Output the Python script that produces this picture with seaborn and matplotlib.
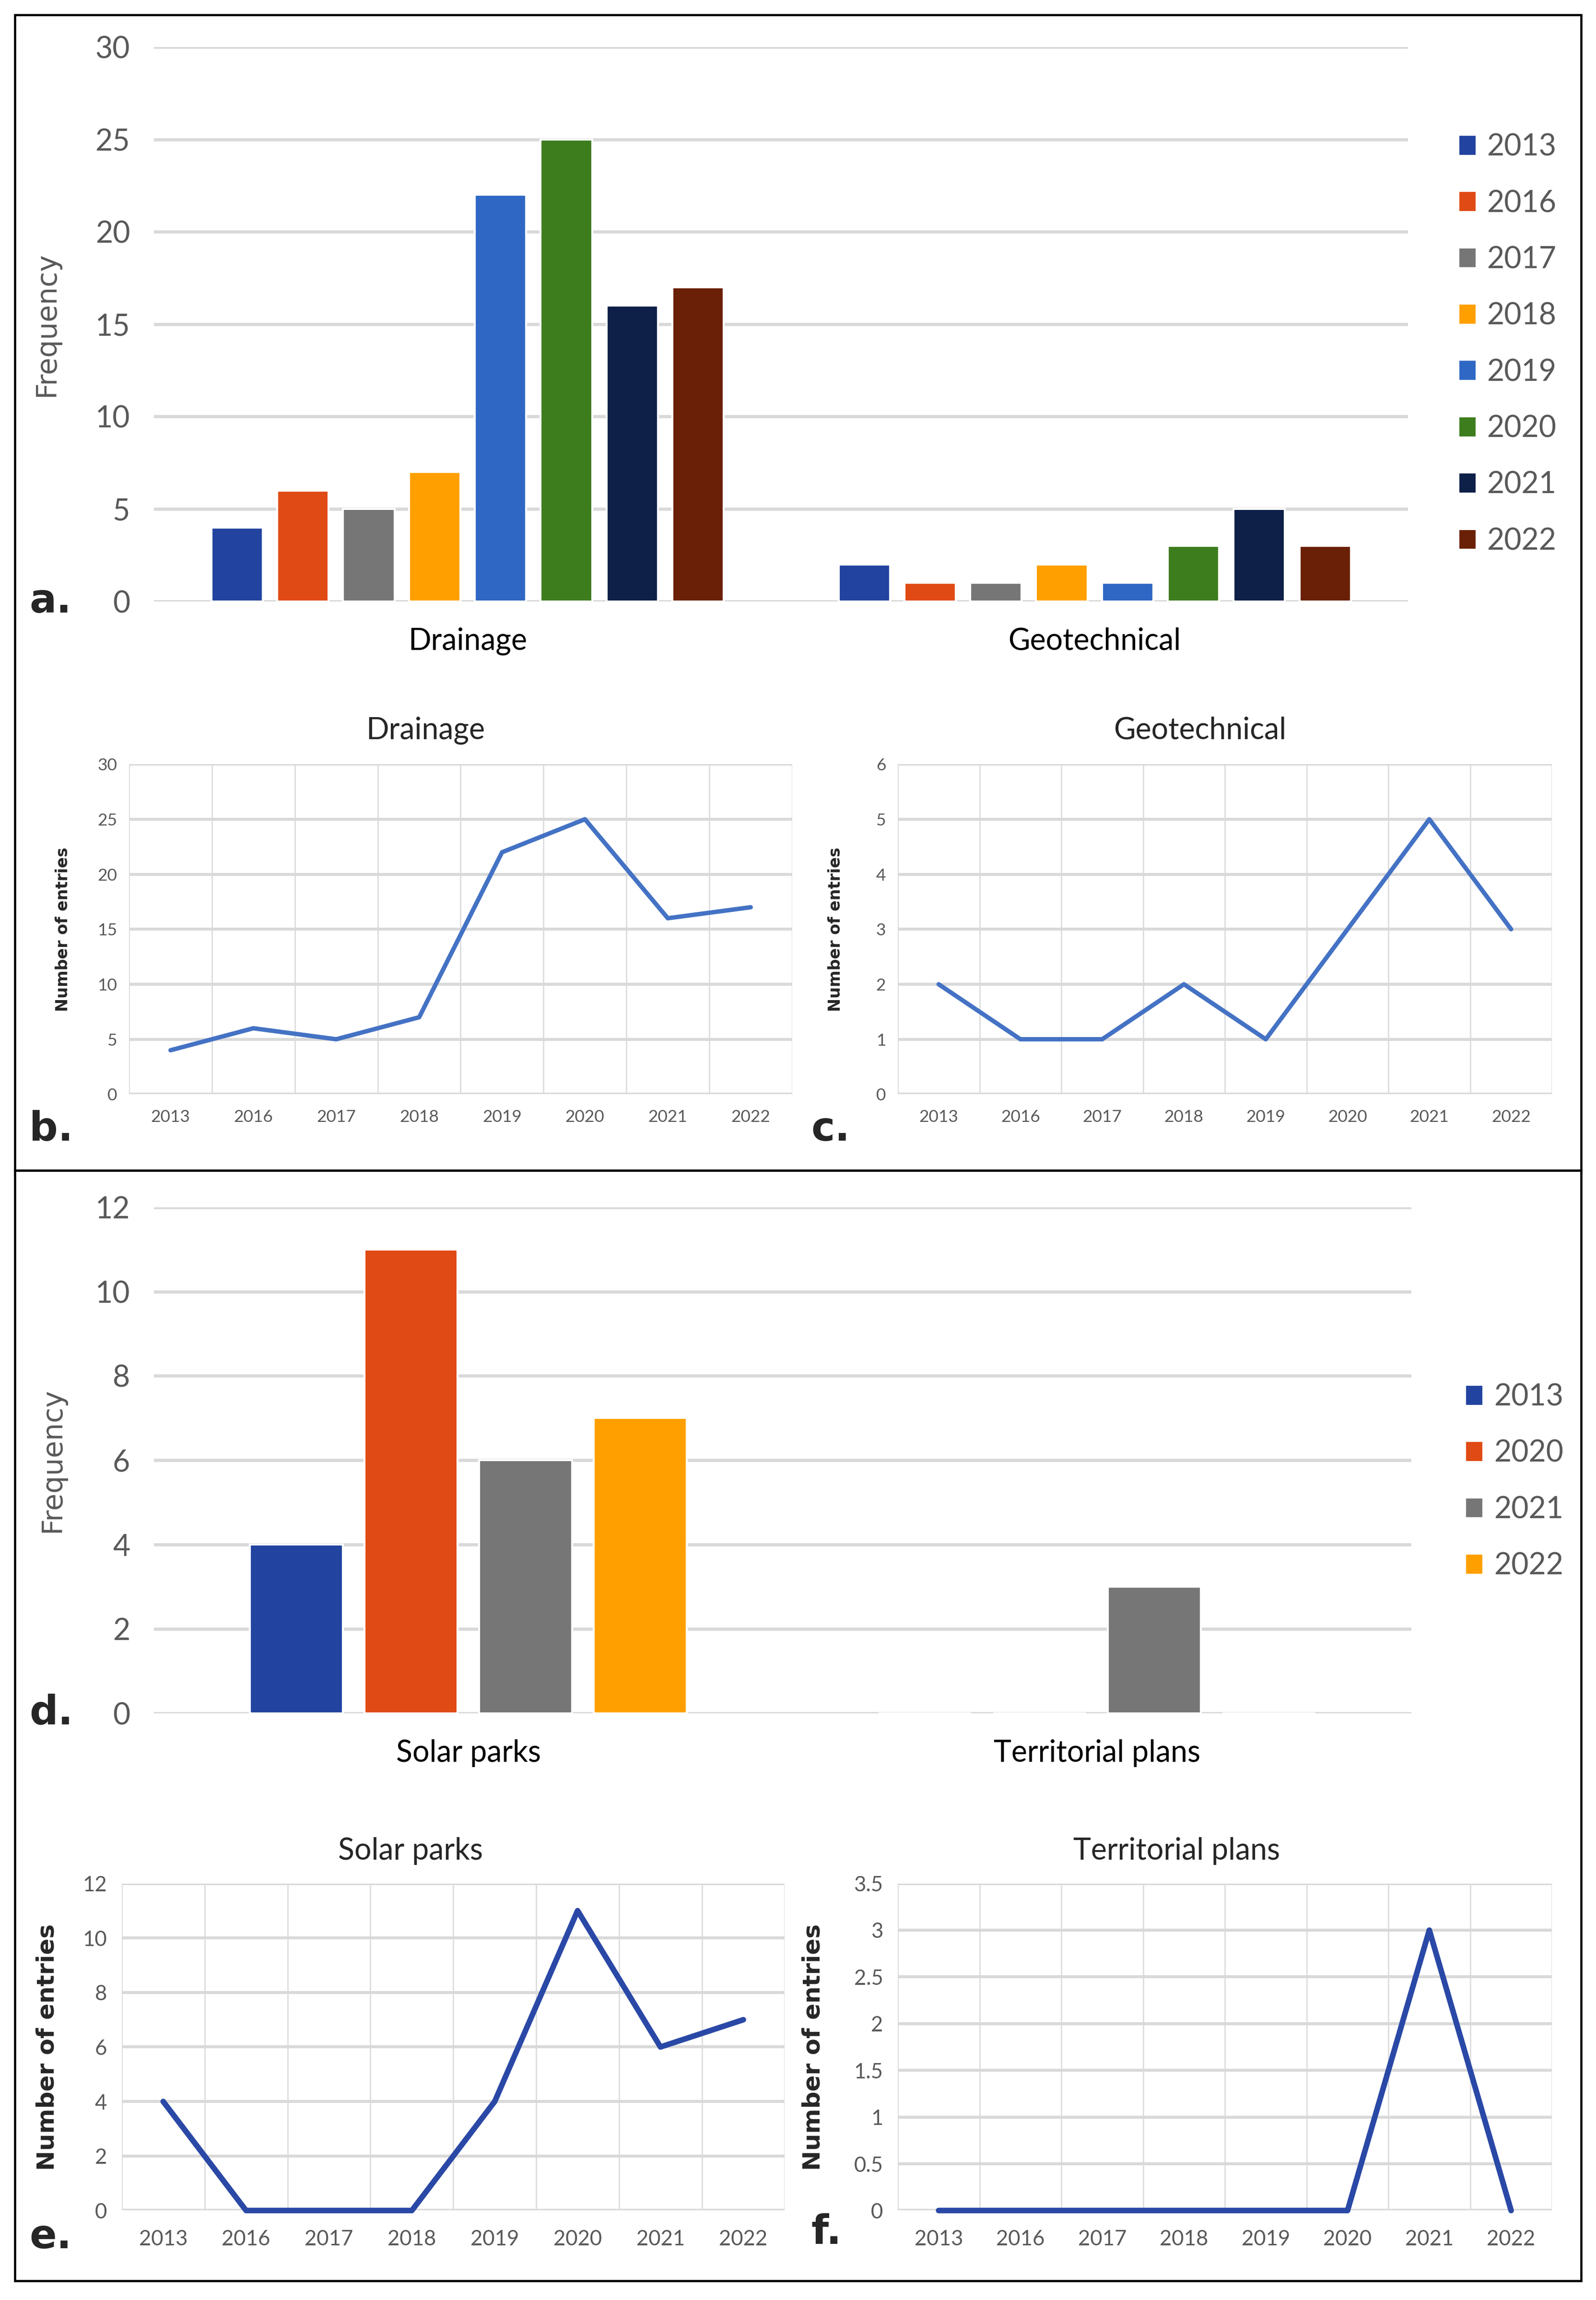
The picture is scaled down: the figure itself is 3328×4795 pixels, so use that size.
import numpy as np
import pandas as pd
import matplotlib
matplotlib.use("Agg")
import matplotlib.pyplot as plt
import matplotlib.ticker as mtick
from matplotlib.patches import Rectangle
import seaborn as sns

# Data
YEARS_A = ["2013", "2016", "2017", "2018", "2019", "2020", "2021", "2022"]
CATS_A = ["Drainage", "Geotechnical"]
DRAINAGE = [4, 6, 5, 7, 22, 25, 16, 17]
GEOTECH = [2, 1, 1, 2, 1, 3, 5, 3]

YEARS_D = ["2013", "2020", "2021", "2022"]
CATS_D = ["Solar parks", "Territorial plans"]
SOLAR_BARS = [4, 11, 6, 7]
TERRIT_BARS = [0, 0, 3, 0]

LINE_YEARS = ["2013", "2016", "2017", "2018", "2019", "2020", "2021", "2022"]
SOLAR_LINE = [4, 0, 0, 0, 4, 11, 6, 7]
TERRIT_LINE = [0, 0, 0, 0, 0, 0, 3, 0]

COLORS_A = ["#2243A0", "#E04A14", "#767676", "#FFA000",
            "#2E67C4", "#3E7D1E", "#0E1F48", "#6A2006"]
COLORS_D = COLORS_A[:4]

GRID = "#D9D9D9"
TXT = "#595959"

sns.set_style("white")
plt.rcParams["font.family"] = ["Lato", "DejaVu Sans"]

W, H = 1088, 1568  # layout reference units


def box(l, t, r, b):
    return [l / W, 1 - b / H, (r - l) / W, (b - t) / H]


fig = plt.figure(figsize=(3328 / 300, 4795 / 300), dpi=300)


def style_bar_ax(ax, ymax, step, ylabel_x):
    ax.set_ylim(0, ymax)
    ax.yaxis.set_major_locator(mtick.MultipleLocator(step))
    ax.grid(axis="y", color=GRID, lw=1.6)
    ax.grid(axis="x", visible=False)
    ax.set_axisbelow(True)
    for s in ax.spines.values():
        s.set_visible(False)
    ax.tick_params(axis="y", length=0, pad=12, labelsize=15, labelcolor=TXT)
    ax.tick_params(axis="x", length=0, pad=13, labelsize=15, labelcolor="black")
    ax.set_xlabel("")
    ax.set_ylabel("Frequency", fontsize=14, color=TXT, family="DejaVu Sans")
    ax.yaxis.set_label_coords(ylabel_x, 0.5)


# Panel a: bars
df_a = pd.DataFrame({
    "category": [CATS_A[0]] * len(YEARS_A) + [CATS_A[1]] * len(YEARS_A),
    "year": YEARS_A * 2,
    "value": DRAINAGE + GEOTECH,
})
ax_a = fig.add_axes(box(105, 32, 960, 410))
sns.barplot(data=df_a, x="category", y="value", hue="year", palette=COLORS_A,
            width=0.84, gap=0.22, saturation=1, ax=ax_a)
style_bar_ax(ax_a, 30, 5, -0.075)
ax_a.legend(loc="center left", bbox_to_anchor=(1.04, 0.464), frameon=False,
            fontsize=15, labelspacing=0.95, handlelength=0.6, handleheight=0.7,
            handletextpad=0.35, borderaxespad=0, borderpad=0)
for t in ax_a.get_legend().get_texts():
    t.set_color(TXT)

# Panel d: bars
df_d = pd.DataFrame({
    "category": [CATS_D[0]] * len(YEARS_D) + [CATS_D[1]] * len(YEARS_D),
    "year": YEARS_D * 2,
    "value": SOLAR_BARS + TERRIT_BARS,
})
ax_d = fig.add_axes(box(105, 823, 962, 1168))
sns.barplot(data=df_d, x="category", y="value", hue="year", palette=COLORS_D,
            width=0.73, gap=0.19, saturation=1, ax=ax_d)
style_bar_ax(ax_d, 12, 2, -0.07)
ax_d.legend(loc="center left", bbox_to_anchor=(1.043, 0.458), frameon=False,
            fontsize=15, labelspacing=0.95, handlelength=0.6, handleheight=0.7,
            handletextpad=0.35, borderaxespad=0, borderpad=0)
for t in ax_d.get_legend().get_texts():
    t.set_color(TXT)


# Line panels
def line_panel(rect, values, ymax, step, color, lw, tick_size, lab_size,
               ylabel_x, tick_fmt=None):
    ax = fig.add_axes(rect)
    sns.lineplot(x=LINE_YEARS, y=values, color=color, lw=lw, ax=ax, sort=False)
    for ln in ax.get_lines():
        ln.set_clip_on(False)
    ax.set_xlim(-0.5, len(LINE_YEARS) - 0.5)
    ax.set_ylim(0, ymax)
    ax.yaxis.set_major_locator(mtick.MultipleLocator(step))
    if tick_fmt:
        ax.yaxis.set_major_formatter(mtick.FuncFormatter(tick_fmt))
    ax.xaxis.set_minor_locator(mtick.FixedLocator(np.arange(-0.5, len(LINE_YEARS), 1)))
    ax.grid(axis="y", which="major", color=GRID, lw=1.5)
    ax.grid(axis="x", which="minor", color=GRID, lw=0.6)
    ax.grid(axis="x", which="major", visible=False)
    ax.set_axisbelow(True)
    for s in ax.spines.values():
        s.set_visible(False)
    ax.tick_params(which="both", length=0)
    ax.tick_params(axis="both", labelsize=tick_size, labelcolor=TXT)
    ax.tick_params(axis="x", pad=tick_size * 0.9)
    ax.tick_params(axis="y", pad=tick_size * 0.7)
    ax.set_xlabel("")
    ax.set_ylabel("Number of entries", fontsize=lab_size, fontweight="bold",
                  family="DejaVu Sans")
    ax.yaxis.set_label_coords(ylabel_x, 0.5)
    return ax


BLUE_B = "#4472C4"
BLUE_E = "#2A48A6"

line_panel(box(88, 521, 540, 746), DRAINAGE, 30, 5, BLUE_B, 2.2, 8.5, 8, -0.088)
line_panel(box(612, 521, 1058, 746), GEOTECH, 6, 1, BLUE_B, 2.2, 8.5, 8, -0.083)
line_panel(box(83, 1284, 535, 1507), SOLAR_LINE, 12, 2, BLUE_E, 2.8, 10.5, 12, -0.095)
line_panel(box(612, 1284, 1058, 1507), TERRIT_LINE, 3.5, 0.5, BLUE_E, 2.8, 10.5, 12,
           -0.112, tick_fmt=lambda v, p: f"{v:g}")

# Titles of line panels
for txt, x, y in [("Drainage", 290, 498), ("Geotechnical", 818, 498),
                  ("Solar parks", 280, 1262), ("Territorial plans", 802, 1262)]:
    fig.text(x / W, 1 - y / H, txt, ha="center", va="center", fontsize=15)

# Panel letters
for txt, x, y in [("a.", 20, 410), ("b.", 20, 770), ("c.", 553, 770),
                  ("d.", 20, 1168), ("e.", 20, 1525), ("f.", 553, 1522)]:
    fig.text(x / W, 1 - y / H, txt, ha="left", va="center", fontsize=20,
             fontweight="bold", family="DejaVu Sans")

# Outer frames
for t, b in [(10, 798), (798, 1555)]:
    fig.add_artist(Rectangle((10 / W, 1 - b / H), 1068 / W, (b - t) / H,
                             transform=fig.transFigure, fill=False,
                             ec="black", lw=1.1))

fig.savefig("out.png", dpi=300)
